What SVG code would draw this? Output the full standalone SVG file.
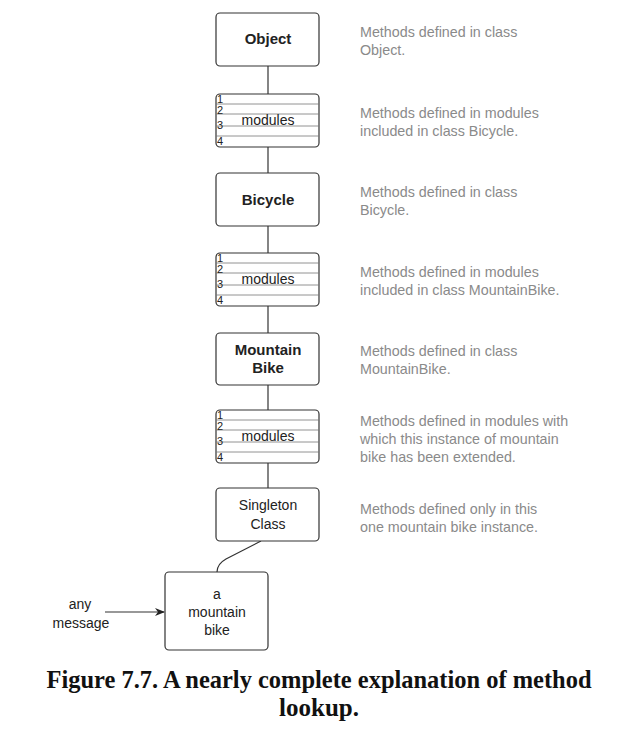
<svg xmlns="http://www.w3.org/2000/svg" width="639" height="738" viewBox="0 0 639 738">
<defs>
<style>
.box{fill:#fff;stroke:#333;stroke-width:1.2}
.row{stroke:#777;stroke-width:0.8}
.t{font-family:"Liberation Sans",Arial,sans-serif;font-size:14px;fill:#222;text-anchor:middle}
.b{font-weight:bold;font-size:15px}
.n{font-family:"Liberation Sans",Arial,sans-serif;font-size:11px;fill:#222}
.d{font-family:"Liberation Sans",Arial,sans-serif;font-size:14.3px;fill:#8a8a8a}
.c{stroke:#333;stroke-width:1.2;fill:none}
.cap{font-family:"Liberation Serif","Times New Roman",serif;font-weight:bold;font-size:25px;fill:#111;text-anchor:middle}
</style>
<marker id="ah" markerWidth="10" markerHeight="8" refX="9" refY="4" orient="auto" markerUnits="userSpaceOnUse">
<path d="M0,0 L10,4 L0,8 L3,4 Z" fill="#222"/>
</marker>
<g id="modrows">
<line class="row" x1="216" y1="10" x2="319" y2="10"/>
<line class="row" x1="216" y1="20" x2="319" y2="20"/>
<line class="row" x1="216" y1="32" x2="319" y2="32"/>
<line class="row" x1="216" y1="42" x2="319" y2="42"/>
<text class="n" x="217" y="9">1</text>
<text class="n" x="217" y="20">2</text>
<text class="n" x="217" y="35">3</text>
<text class="n" x="217" y="51">4</text>
<text class="t" x="268" y="31">modules</text>
</g>
</defs>

<g id="connectors">
<line class="c" x1="268" y1="66" x2="268" y2="94"/>
<line class="c" x1="268" y1="147" x2="268" y2="173"/>
<line class="c" x1="268" y1="226" x2="268" y2="253"/>
<line class="c" x1="268" y1="306" x2="268" y2="333"/>
<line class="c" x1="268" y1="385" x2="268" y2="410"/>
<line class="c" x1="268" y1="463" x2="268" y2="488"/>
<path class="c" d="M261,541 L226,559 Q217,564 217,572"/>
<line class="c" x1="105" y1="612" x2="164" y2="612" marker-end="url(#ah)"/>
</g>

<g id="object">
<rect class="box" x="216" y="13" width="103" height="53" rx="4"/>
<text class="t b" x="268" y="44">Object</text>
</g>
<g id="modules1">
<rect class="box" x="216" y="94" width="103" height="53" rx="4"/>
<use href="#modrows" y="94"/>
</g>
<g id="bicycle">
<rect class="box" x="216" y="173" width="103" height="53" rx="4"/>
<text class="t b" x="268" y="205">Bicycle</text>
</g>
<g id="modules2">
<rect class="box" x="216" y="253" width="103" height="53" rx="4"/>
<use href="#modrows" y="253"/>
</g>
<g id="mountainbike">
<rect class="box" x="216" y="333" width="103" height="52" rx="4"/>
<text class="t b" x="268" y="355">Mountain</text>
<text class="t b" x="268" y="373">Bike</text>
</g>
<g id="modules3">
<rect class="box" x="216" y="410" width="103" height="53" rx="4"/>
<use href="#modrows" y="410"/>
</g>
<g id="singleton">
<rect class="box" x="216" y="488" width="103" height="53" rx="4"/>
<text class="t" x="268" y="510">Singleton</text>
<text class="t" x="268" y="529">Class</text>
</g>
<g id="amountainbike">
<rect class="box" x="165" y="572" width="103" height="78" rx="4"/>
<text class="t" x="217" y="599">a</text>
<text class="t" x="217" y="617">mountain</text>
<text class="t" x="217" y="635">bike</text>
</g>
<g id="anymessage">
<text class="t" x="80" y="609">any</text>
<text class="t" x="81" y="628">message</text>
</g>

<g id="descriptions">
<text class="d" x="360" y="37">Methods defined in class</text>
<text class="d" x="360" y="55">Object.</text>
<text class="d" x="360" y="118">Methods defined in modules</text>
<text class="d" x="360" y="136">included in class Bicycle.</text>
<text class="d" x="360" y="197">Methods defined in class</text>
<text class="d" x="360" y="215">Bicycle.</text>
<text class="d" x="360" y="277">Methods defined in modules</text>
<text class="d" x="360" y="295">included in class MountainBike.</text>
<text class="d" x="360" y="356">Methods defined in class</text>
<text class="d" x="360" y="374">MountainBike.</text>
<text class="d" x="360" y="426">Methods defined in modules with</text>
<text class="d" x="360" y="444">which this instance of mountain</text>
<text class="d" x="360" y="462">bike has been extended.</text>
<text class="d" x="360" y="514">Methods defined only in this</text>
<text class="d" x="360" y="532">one mountain bike instance.</text>
</g>

<g id="caption">
<text class="cap" x="319" y="688" textLength="545" lengthAdjust="spacingAndGlyphs">Figure 7.7. A nearly complete explanation of method</text>
<text class="cap" x="319" y="716">lookup.</text>
</g>
</svg>
